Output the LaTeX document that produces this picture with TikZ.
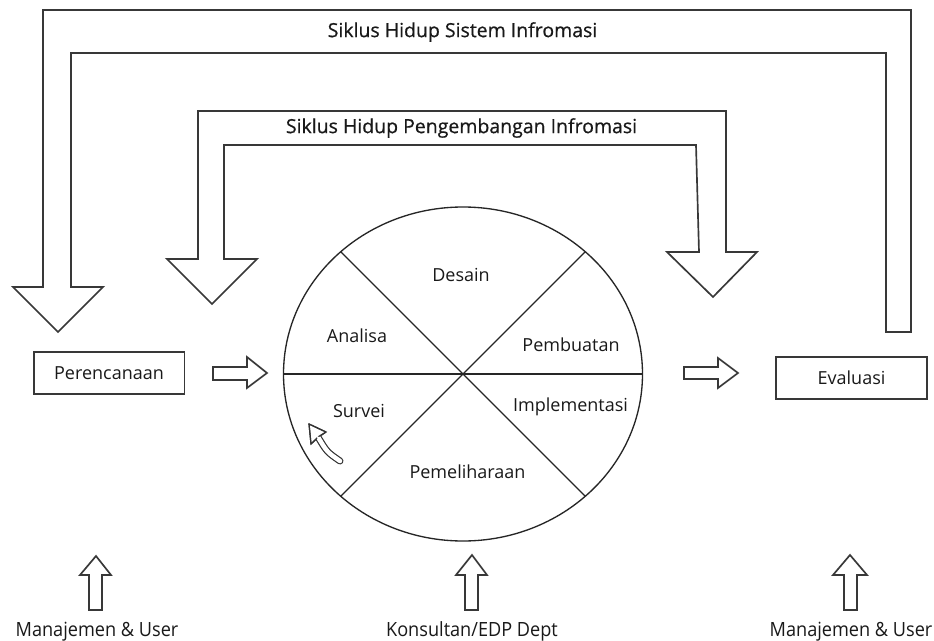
\documentclass[tikz,border=0pt]{standalone}
\usepackage{fontspec}
\setmainfont{Open Sans}
\newfontfamily\titlefont[FakeBold=0.6]{Open Sans}
\begin{document}
\begin{tikzpicture}[x=0.75pt,y=-0.75pt,
  ln/.style={draw=black!78,line width=1.25pt,line join=miter},
  cl/.style={draw=black!85,line width=1pt},
  lbl/.style={font=\fontsize{13.5}{16}\selectfont,text=black!90,inner sep=0pt},
  ttl/.style={font=\titlefont\fontsize{14.6}{17}\selectfont,text=black!90,inner sep=0pt},
  btm/.style={font=\fontsize{13.6}{16}\selectfont,text=black!90,inner sep=0pt,anchor=base},
  boxnode/.style={draw=black!78,line width=1.25pt,minimum width=113pt,minimum height=31.5pt,inner sep=0pt,font=\fontsize{13.5}{16}\selectfont,text=black!90}]
\useasboundingbox (0,0) rectangle (934,641);
\fill[white] (0,0) rectangle (934,641);

% outer big arrow
\draw[ln] (13,287) -- (43,287) -- (43,10) -- (911,10) -- (911,332) -- (886,332)
  -- (886,53) -- (71,53) -- (71,287) -- (103,287) -- (58,332) -- cycle;
% inner double-headed band arrow
\draw[ln] (167,259) -- (198,259) -- (198,111) -- (726,111) -- (726,252) -- (757,252)
  -- (713,297) -- (667,252) -- (699,252) -- (696,145) -- (224,145) -- (224,259)
  -- (257,259) -- (212,304) -- cycle;

\node[ttl] (t1) at (462.5,32) {Siklus Hidup Sistem Infromasi};
\node[ttl] (t2) at (461.5,128) {Siklus Hidup Pengembangan Infromasi};

% circle
\coordinate (c) at (463,374);
\draw[cl] (c) ellipse [x radius=179.5, y radius=167];
\draw[cl] (283.5,374) -- (642.5,374);
\draw[cl] (c) ++(-122.4,-122.4) -- ++(244.8,244.8);
\draw[cl] (c) ++(-122.4,122.4) -- ++(244.8,-244.8);

\node[lbl] (desain) at (461,275) {Desain};
\node[lbl] (analisa) at (357,336) {Analisa};
\node[lbl] (pembuatan) at (571,345) {Pembuatan};
\node[lbl] (survei) at (359,411) {Survei};
\node[lbl] (impl) at (570.5,407) {Implementasi};
\node[lbl] (pemel) at (467.5,472) {Pemeliharaan};

% small curved arrow
\draw[draw=black!80,line width=0.9pt,double=white,double distance=3.4pt,line cap=round]
  (318,437) .. controls (327,452) .. (340,461);
\filldraw[fill=white,draw=black!80,line width=0.9pt,line join=miter]
  (309,424) -- (326,432) -- (318.6,436.5) -- (311,444) -- cycle;
\fill[white] (316.5,436) -- (320.5,437.5) -- (318.7,441) -- cycle;
\draw[draw=black!80,line width=0.9pt] (309,424) -- (326,432) (309,424) -- (311,444);
\draw[draw=black!80,line width=0.9pt] (326,432) -- (321.2,435.4) (311,444) -- (315.5,439.9);

% boxes
\node[boxnode] (per) at (109,373) {Perencanaan};
\node[boxnode] (eva) at (851.5,378) {Evaluasi};

% small right arrows
\draw[ln] (213,367) -- (247,367) -- (247,357) -- (267,373) -- (247,388) -- (247,380) -- (213,380) -- cycle;
\draw[ln] (684,367) -- (718,367) -- (718,358) -- (738,373) -- (718,388) -- (718,379) -- (684,379) -- cycle;

% up arrows
\draw[ln] (89,610) -- (89,575) -- (80,575) -- (96,556) -- (111,575) -- (102,575) -- (102,610) -- cycle;
\draw[ln] (465,610) -- (465,575) -- (456,575) -- (472,555) -- (487,575) -- (478,575) -- (478,610) -- cycle;
\draw[ln] (844,610) -- (844,575) -- (833,575) -- (850,555) -- (867,575) -- (857,575) -- (857,610) -- cycle;

\node[btm] (m1) at (97,636) {\scalebox{1}[1.08]{Manajemen \& User}};
\node[btm] (k1) at (472,636) {\scalebox{1}[1.08]{Konsultan/EDP Dept}};
\node[btm] (m2) at (851,636) {\scalebox{1}[1.08]{Manajemen \& User}};
\end{tikzpicture}
\end{document}
